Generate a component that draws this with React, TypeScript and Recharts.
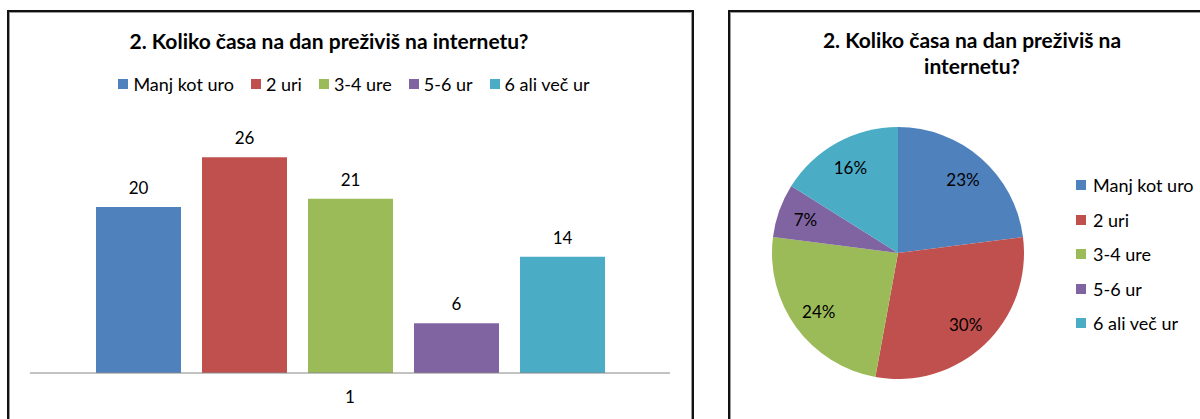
import { Bar, BarChart, LabelList, Legend, Pie, PieChart, Cell, XAxis, YAxis } from 'recharts';

const TITLE = '2. Koliko časa na dan preživiš na internetu?';
const SERIES = ['Manj kot uro', '2 uri', '3-4 ure', '5-6 ur', '6 ali več ur'];
const COUNTS = [20, 26, 21, 6, 14];
const CATEGORY = '1';
const COLORS = ['#4F81BD', '#C0504D', '#9BBB59', '#8064A2', '#4BACC6'];

const FONT = "Lato, 'Noto Sans', sans-serif";

const barData = [
  SERIES.reduce((row: Record<string, any>, name, i) => ({ ...row, [name]: COUNTS[i] }), { name: CATEGORY }),
];
const pieData = SERIES.map((name, i) => ({ name, value: COUNTS[i] }));

const splitAt = TITLE.lastIndexOf(' ');
const pieTitle = [TITLE.slice(0, splitAt), TITLE.slice(splitAt + 1)];

const frame = {
  position: 'absolute' as const,
  top: 10,
  height: 500,
  border: '2px solid #111',
  boxShadow: 'inset 1px 1px 0 #9a9a9a, inset -1px 0 0 #9a9a9a',
  boxSizing: 'border-box' as const,
};

// legend keeps the series order, not alphabetical
const inSeriesOrder = (payload: any[] = []) =>
  [...payload].sort((a, b) => SERIES.indexOf(a.value) - SERIES.indexOf(b.value));

function BarLegend({ payload }: any) {
  return (
    <div style={{ display: 'flex', justifyContent: 'center', gap: 17, fontSize: 18, color: '#000', paddingLeft: 8 }}>
      {inSeriesOrder(payload).map((item: any) => (
        <span key={item.value} style={{ display: 'flex', alignItems: 'center' }}>
          <span style={{ width: 10, height: 10, background: item.color, marginRight: 5, display: 'inline-block' }} />
          {item.value}
        </span>
      ))}
    </div>
  );
}

function PieLegend({ payload }: any) {
  return (
    <div style={{ fontSize: 18, color: '#000' }}>
      {inSeriesOrder(payload).map((item: any) => (
        <div key={item.value} style={{ display: 'flex', alignItems: 'center', height: 34.5 }}>
          <span style={{ width: 10, height: 10, background: item.color, marginRight: 7, display: 'inline-block' }} />
          {item.value}
        </div>
      ))}
    </div>
  );
}

const RAD = Math.PI / 180;
function pieLabel({ cx, cy, midAngle, outerRadius, percent }: any) {
  const r = outerRadius * 0.78;
  const x = cx + r * Math.cos(-midAngle * RAD);
  const y = cy + r * Math.sin(-midAngle * RAD);
  return (
    <text x={x} y={y} fill="#000" fontSize={17} textAnchor="middle" dominantBaseline="central">
      {`${Math.round(percent * 100)}%`}
    </text>
  );
}

export default function App() {
  return (
    <div
      style={{
        position: 'absolute',
        left: 0,
        top: 0,
        width: 1200,
        height: 419,
        overflow: 'hidden',
        background: '#fff',
        fontFamily: FONT,
      }}
    >
      <div style={{ ...frame, left: 7, width: 687 }} />
      <div style={{ ...frame, left: 728, width: 600 }} />

      <div
        style={{
          position: 'absolute',
          left: 0,
          top: 30,
          width: 658,
          textAlign: 'center',
          fontSize: 21,
          lineHeight: '21px',
          fontWeight: 700,
          color: '#000',
        }}
      >
        {TITLE}
      </div>

      <div
        style={{
          position: 'absolute',
          left: 728,
          top: 27,
          width: 488,
          textAlign: 'center',
          fontSize: 21,
          lineHeight: '26px',
          fontWeight: 700,
          color: '#000',
        }}
      >
        <div>{pieTitle[0]}</div>
        <div>{pieTitle[1]}</div>
      </div>

      <div style={{ position: 'absolute', left: 0, top: 0 }}>
        <BarChart
          width={700}
          height={419}
          data={barData}
          margin={{ top: 124, right: 30, bottom: 16, left: 30 }}
          barSize={85}
          barGap={21}
        >
          <XAxis
            dataKey="name"
            height={30}
            stroke="#868686"
            tickLine={false}
            tickSize={6}
            tickMargin={12}
            tick={{ fill: '#000', fontSize: 17 }}
          />
          <YAxis hide domain={[0, 30]} />
          <Legend
            layout="horizontal"
            verticalAlign="middle"
            align="center"
            wrapperStyle={{ top: 73, left: 0, width: 700 }}
            content={<BarLegend />}
          />
          {SERIES.map((name, i) => (
            <Bar key={name} dataKey={name} fill={COLORS[i]} isAnimationActive={false}>
              <LabelList dataKey={name} position="top" offset={13} fill="#000" fontSize={17} />
            </Bar>
          ))}
        </BarChart>
      </div>

      <div style={{ position: 'absolute', left: 730, top: 0 }}>
        <PieChart width={470} height={419} margin={{ top: 0, right: 0, bottom: 0, left: 0 }}>
          <Pie
            data={pieData}
            dataKey="value"
            nameKey="name"
            cx={168}
            cy={253}
            outerRadius={126}
            startAngle={90}
            endAngle={-270}
            stroke="none"
            label={pieLabel}
            labelLine={false}
            isAnimationActive={false}
          >
            {pieData.map((d, i) => (
              <Cell key={d.name} fill={COLORS[i]} />
            ))}
          </Pie>
          <Legend
            layout="vertical"
            verticalAlign="middle"
            align="center"
            wrapperStyle={{ left: 346, top: 168, width: 130 }}
            content={<PieLegend />}
          />
        </PieChart>
      </div>
    </div>
  );
}
